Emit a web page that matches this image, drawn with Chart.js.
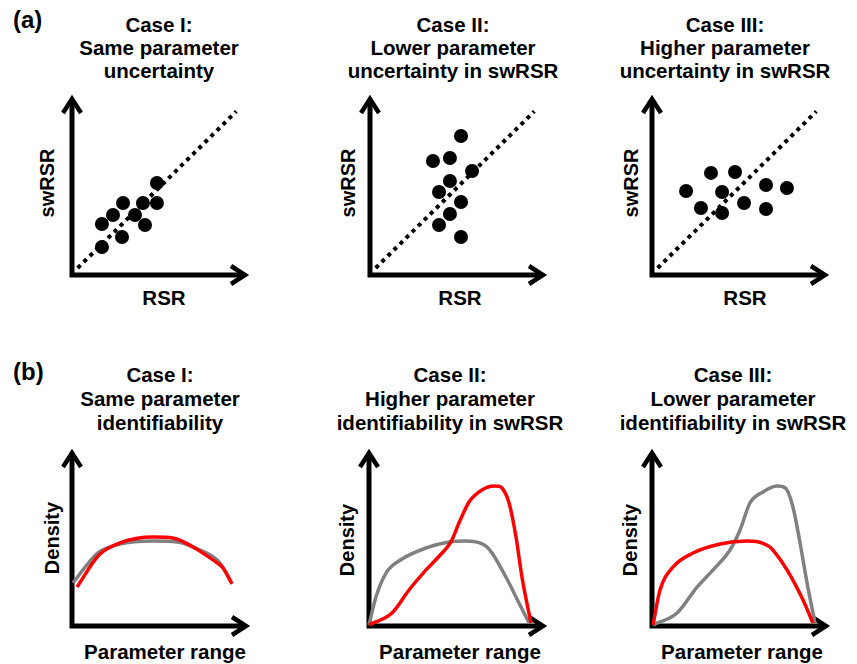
<!DOCTYPE html>
<html>
<head>
<meta charset="utf-8">
<script src="https://cdn.jsdelivr.net/npm/chart.js@4"></script>
<style>
  html, body { margin: 0; padding: 0; background: #fff; }
  #wrap { position: relative; width: 857px; height: 664px; overflow: hidden; background: #fff;
          font-family: "Liberation Sans", Arial, sans-serif; font-weight: bold; color: #000; }
  canvas { position: absolute; }
  .t { position: absolute; text-align: center; white-space: nowrap; font-size: 20.5px; transform: translateX(-50%); }
  .lbl { position: absolute; white-space: nowrap; font-size: 20.5px; line-height: 1; transform: translate(-50%, -50%); }
  .rot { position: absolute; white-space: nowrap; font-size: 20px; line-height: 1; transform: translate(-50%, -50%) rotate(-90deg); }
  .tag { position: absolute; font-size: 24px; line-height: 1; }
</style>
</head>
<body>
<div id="wrap">
  <div class="tag" style="left:13px; top:8px;">(a)</div>
  <div class="tag" style="left:13px; top:360px;">(b)</div>

  <div class="t" style="left:159px; top:13px; line-height:23.2px;">Case I:<br>Same parameter<br>uncertainty</div>
  <div class="t" style="left:453px; top:13px; line-height:23.2px;">Case II:<br>Lower parameter<br>uncertainty in swRSR</div>
  <div class="t" style="left:725px; top:13px; line-height:23.2px;">Case III:<br>Higher parameter<br>uncertainty in swRSR</div>

  <div class="t" style="left:160px; top:363px; line-height:24px;">Case I:<br>Same parameter<br>identifiability</div>
  <div class="t" style="left:450px; top:363px; line-height:24px;">Case II:<br>Higher parameter<br>identifiability in swRSR</div>
  <div class="t" style="left:733px; top:363px; line-height:24px;">Case III:<br>Lower parameter<br>identifiability in swRSR</div>

  <div class="rot" style="left:47px; top:183px;">swRSR</div>
  <div class="rot" style="left:348px; top:183px;">swRSR</div>
  <div class="rot" style="left:631px; top:183px;">swRSR</div>
  <div class="lbl" style="left:164px; top:298px;">RSR</div>
  <div class="lbl" style="left:460px; top:298px;">RSR</div>
  <div class="lbl" style="left:745px; top:298px;">RSR</div>

  <div class="rot" style="left:52px; top:538px;">Density</div>
  <div class="rot" style="left:347px; top:540px;">Density</div>
  <div class="rot" style="left:630px; top:540px;">Density</div>
  <div class="lbl" style="left:165px; top:652px;">Parameter range</div>
  <div class="lbl" style="left:460px; top:652px;">Parameter range</div>
  <div class="lbl" style="left:742px; top:652px;">Parameter range</div>

  <canvas id="ca1"></canvas>
  <canvas id="ca2"></canvas>
  <canvas id="ca3"></canvas>
  <canvas id="cb1"></canvas>
  <canvas id="cb2"></canvas>
  <canvas id="cb3"></canvas>
</div>
<script>
// ---------- Data (axis units 0..10) ----------
// Panel (a): 1:1 reference line
const diagX = [0.33, 9.5];
const diagY = [0.4, 9.3];

// Case I: same parameter uncertainty
const a1X = [4.91, 4.91, 4.10, 2.95, 3.64, 2.37, 4.22, 1.73, 2.89, 1.73];
const a1Y = [5.23, 4.09, 4.09, 4.09, 3.41, 3.41, 2.84, 2.90, 2.16, 1.59];

// Case II: lower parameter uncertainty in swRSR
const a2X = [5.26, 3.64, 4.62, 5.90, 4.62, 3.99, 5.26, 4.62, 3.99, 5.26];
const a2Y = [7.90, 6.48, 6.65, 5.91, 5.34, 4.72, 4.15, 3.47, 2.84, 2.16];

// Case III: higher parameter uncertainty in swRSR
const a3X = [1.97, 3.41, 4.80, 2.83, 4.05, 4.05, 5.32, 6.59, 7.80, 6.59];
const a3Y = [4.77, 5.80, 5.85, 3.81, 4.72, 3.52, 4.09, 5.11, 4.94, 3.75];

// Panel (b): densities over parameter range
const b1GrayX = [0.06, 0.86, 1.49, 2.76, 4.66, 6.03, 7.36, 8.51, 9.08];
const b1GrayY = [2.49, 3.53, 4.22, 4.74, 4.91, 4.86, 4.39, 3.64, 2.66];
const b1RedX  = [0.29, 1.55, 2.76, 4.66, 5.80, 6.95, 8.10, 8.68, 9.20];
const b1RedY  = [2.25, 4.10, 4.80, 5.14, 5.09, 4.57, 3.82, 3.35, 2.43];

const b2GrayX = [0.0, 0.40, 0.98, 1.90, 3.28, 4.60, 5.57, 6.03, 6.44, 6.78, 7.07, 7.87, 8.62, 9.20];
const b2GrayY = [0.06, 1.68, 3.06, 3.87, 4.51, 4.86, 4.91, 4.88, 4.78, 4.57, 4.22, 2.83, 1.33, 0.17];
const b2RedX  = [0.0, 1.32, 2.30, 3.28, 4.20, 4.71, 5.17, 5.75, 6.49, 7.18, 7.41, 7.64, 8.05, 8.45, 8.79, 9.31];
const b2RedY  = [0.06, 0.75, 2.08, 3.24, 4.22, 4.86, 5.95, 7.17, 7.86, 8.09, 8.08, 7.98, 7.11, 5.14, 2.83, 0.17];

const b3GrayX = [0.06, 1.44, 2.59, 3.51, 4.48, 5.06, 5.63, 6.38, 7.18, 7.47, 7.76, 8.10, 8.51, 8.91, 9.37];
const b3GrayY = [0.06, 0.75, 2.25, 3.24, 4.39, 5.55, 7.11, 7.75, 8.09, 8.07, 7.86, 6.88, 4.80, 2.49, 0.17];
const b3RedX  = [0.06, 0.46, 1.21, 2.36, 3.91, 5.46, 5.98, 6.38, 6.72, 6.95, 7.76, 8.68, 9.25];
const b3RedY  = [0.06, 2.08, 3.41, 4.22, 4.74, 4.91, 4.88, 4.78, 4.60, 4.39, 3.24, 1.50, 0.17];

const axisMin = 0, axisMax = 10;

// ---------- Helpers ----------
function pts(xs, ys) { return xs.map((x, i) => ({ x: x, y: ys[i] })); }

const arrowAxes = {
  id: 'arrowAxes',
  beforeDatasetsDraw(chart) {
    const a = chart.chartArea;
    const ctx = chart.ctx;
    ctx.save();
    ctx.strokeStyle = '#000';
    ctx.lineWidth = 5;
    ctx.lineCap = 'butt';
    ctx.lineJoin = 'miter';
    ctx.beginPath();
    ctx.moveTo(a.left, a.top + 3);
    ctx.lineTo(a.left, a.bottom);
    ctx.lineTo(a.right - 3, a.bottom);
    ctx.stroke();
    ctx.lineWidth = 4.5;
    ctx.beginPath();
    ctx.moveTo(a.left - 9, a.top + 14);
    ctx.lineTo(a.left, a.top);
    ctx.lineTo(a.left + 9, a.top + 14);
    ctx.stroke();
    ctx.beginPath();
    ctx.moveTo(a.right - 14, a.bottom - 9);
    ctx.lineTo(a.right, a.bottom);
    ctx.lineTo(a.right - 14, a.bottom + 9);
    ctx.stroke();
    ctx.restore();
  }
};

const PADX = 25, PADY = 20;
function place(id, left, top, w, h) {
  const c = document.getElementById(id);
  const cw = w + 2 * PADX, ch = h + 2 * PADY;
  c.width = cw; c.height = ch;
  c.style.width = cw + 'px'; c.style.height = ch + 'px';
  c.style.left = (left - PADX) + 'px';
  c.style.top = (top - PADY) + 'px';
  return c;
}

function baseOptions() {
  return {
    responsive: false,
    animation: false,
    devicePixelRatio: 1,
    layout: { padding: { left: PADX, right: PADX, top: PADY, bottom: PADY } },
    plugins: { legend: { display: false }, tooltip: { enabled: false }, title: { display: false } },
    scales: {
      x: { type: 'linear', min: axisMin, max: axisMax, display: false },
      y: { type: 'linear', min: axisMin, max: axisMax, display: false }
    },
    events: []
  };
}

function scatterPanel(id, left, xs, ys) {
  const c = place(id, left, 99, 173, 176);
  new Chart(c, {
    type: 'scatter',
    data: {
      datasets: [
        { data: pts(xs, ys), pointRadius: 7, pointBackgroundColor: '#000', pointBorderColor: '#000',
          pointBorderWidth: 0, showLine: false, clip: false, order: 0 },
        { data: pts(diagX, diagY), showLine: true, pointRadius: 0, borderColor: '#000',
          borderWidth: 4, borderDash: [4, 4.5], borderCapStyle: 'butt', clip: false, order: 1 }
      ]
    },
    options: baseOptions(),
    plugins: [arrowAxes]
  });
}

function densityPanel(id, left, gx, gy, rx, ry) {
  const c = place(id, left, 453, 174, 173);
  const common = { showLine: true, pointRadius: 0, borderWidth: 3.5, cubicInterpolationMode: 'monotone',
                   clip: false, borderCapStyle: 'butt', borderJoinStyle: 'round' };
  new Chart(c, {
    type: 'scatter',
    data: {
      datasets: [
        Object.assign({ data: pts(rx, ry), borderColor: '#ff0000', order: 0 }, common),
        Object.assign({ data: pts(gx, gy), borderColor: '#808080', order: 1 }, common)
      ]
    },
    options: baseOptions(),
    plugins: [arrowAxes]
  });
}

scatterPanel('ca1', 72, a1X, a1Y);
scatterPanel('ca2', 370, a2X, a2Y);
scatterPanel('ca3', 652, a3X, a3Y);

densityPanel('cb1', 72, b1GrayX, b1GrayY, b1RedX, b1RedY);
densityPanel('cb2', 369, b2GrayX, b2GrayY, b2RedX, b2RedY);
densityPanel('cb3', 652, b3GrayX, b3GrayY, b3RedX, b3RedY);
</script>
</body>
</html>
